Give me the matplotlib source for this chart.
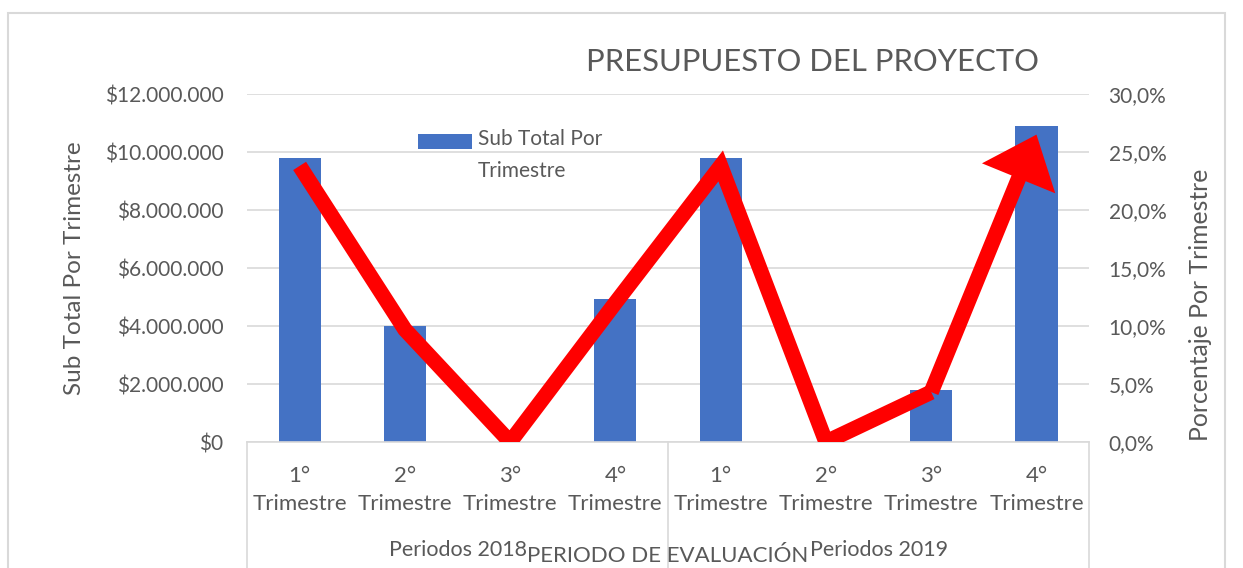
import matplotlib.pyplot as plt
from matplotlib.lines import Line2D
from matplotlib.patches import Rectangle
from matplotlib.legend_handler import HandlerPatch, update_from_first_child
from matplotlib.ticker import FuncFormatter

plt.rcParams['font.family'] = ['Lato', 'DejaVu Sans']

# Data
trimestres = ["1°\nTrimestre", "2°\nTrimestre", "3°\nTrimestre", "4°\nTrimestre",
              "1°\nTrimestre", "2°\nTrimestre", "3°\nTrimestre", "4°\nTrimestre"]
periodos = ["Periodos 2018", "Periodos 2019"]
sub_total = [9790000, 4000000, 0, 4930000, 9790000, 0, 1790000, 10900000]
porcentaje = [23.8, 9.7, 0.0, 12.0, 23.8, 0.0, 4.3, 26.5]

blue = "#4472C4"
grey_txt = "#595959"
grid_col = "#D9D9D9"

fig = plt.figure(figsize=(12.43, 5.68), dpi=100)
ax = fig.add_axes([0.1987, 0.2218, 0.6775, 0.6127])
ax2 = ax.twinx()

x = list(range(len(sub_total)))
bars = ax.bar(x, sub_total, width=0.4, color=blue, label="Sub Total Por\nTrimestre", zorder=2)
ax.set_xlim(-0.5, 7.5)
ax.set_ylim(0, 12000000)
ax.set_yticks(range(0, 12000001, 2000000))
ax.yaxis.set_major_formatter(FuncFormatter(lambda v, p: "$" + f"{int(v):,}".replace(",", ".")))
ax.grid(axis='y', color=grid_col, linewidth=1.2, zorder=0)
ax.set_axisbelow(True)

# line with arrow at end
ax2.set_ylim(0, 30)
ax2.set_yticks(range(0, 31, 5))
ax2.yaxis.set_major_formatter(FuncFormatter(lambda v, p: f"{v:.1f}%".replace(".", ",")))
ax2.plot(x[:-1], porcentaje[:-1], color="red", linewidth=11, solid_joinstyle='miter',
         solid_capstyle='butt', zorder=3)
ax2.annotate("", xy=(x[-1], porcentaje[-1]), xytext=(x[-2], porcentaje[-2]),
             arrowprops=dict(arrowstyle="simple,head_length=1.7,head_width=2.85,tail_width=0.55",
                             mutation_scale=20, fc="red", ec="none", shrinkA=0, shrinkB=0),
             annotation_clip=False, zorder=3)

for a in (ax, ax2):
    for s in a.spines.values():
        s.set_visible(False)
    a.tick_params(axis='y', length=0, labelsize=15, colors=grey_txt)
ax.tick_params(axis='y', pad=17)
ax2.tick_params(axis='y', pad=14)
ax.spines['bottom'].set_visible(True)
ax.spines['bottom'].set_color(grid_col)
ax.spines['bottom'].set_linewidth(1.2)

ax.set_xticks(x)
ax.set_xticklabels(trimestres, fontsize=16, color=grey_txt, linespacing=1.55)
ax.tick_params(axis='x', length=0, pad=17)

# category separators
tr = ax.get_xaxis_transform()
for xs in (-0.5, 3.5, 7.5):
    ax.add_line(Line2D([xs, xs], [0, -0.45], transform=tr, color=grid_col, lw=1.2, clip_on=False))
for i, p in enumerate(periodos):
    ax.text(1.5 + 4 * i, -0.31, p, transform=tr, ha='center', va='center',
            fontsize=15.5, color=grey_txt)

ax.set_ylabel("Sub Total Por Trimestre", fontsize=17.5, color=grey_txt, labelpad=14)
fig.text(1200 / 1243, 1 - 305 / 568, "Porcentaje Por Trimestre", rotation=90,
         ha='center', va='center', fontsize=17.8, color=grey_txt)
fig.text(668 / 1243, 1 - 556 / 568, "PERIODO DE EVALUACIÓN", ha='center', va='center',
         fontsize=16, color=grey_txt)
fig.text(812 / 1243, 1 - 62 / 568, "PRESUPUESTO DEL PROYECTO", ha='center', va='center',
         fontsize=22.3, color=grey_txt)


# legend handle aligned with the first text line (like Excel)
def top_patch(legend, orig_handle, xdescent, ydescent, width, height, fontsize):
    return Rectangle((-xdescent, -ydescent + 10), width, height)


ax.legend(loc='upper left', bbox_to_anchor=(0.191, 0.93), frameon=False,
          labelcolor=grey_txt, handlelength=2.6, handleheight=0.7, borderpad=0,
          handletextpad=0.25, prop={'size': 15},
          handler_map={type(bars): HandlerPatch(patch_func=top_patch,
                                                update_func=update_from_first_child)})
for t in ax.get_legend().get_texts():
    t.set_linespacing(1.75)

# chart border
fig.patches.append(Rectangle((8 / 1243, -0.05), 1217 / 1243, 1.05 - 13 / 568,
                             transform=fig.transFigure, fill=False, ec=grid_col, lw=1.5))

fig.savefig("out.png", dpi=100)
